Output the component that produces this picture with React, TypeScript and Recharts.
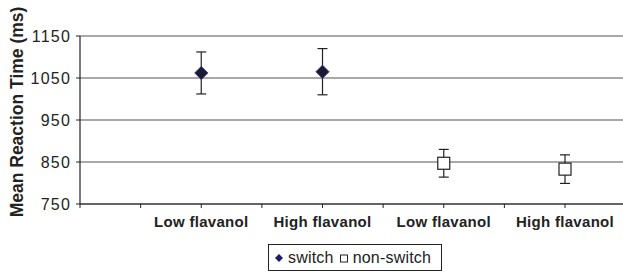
import React from "react"
import { CartesianGrid, ErrorBar, Label, Line, LineChart, XAxis, YAxis } from "recharts"

// category slots along the x axis (blank slots are the unlabeled ticks)
const categories = ["", "", "Low flavanol", "", "High flavanol", "", "Low flavanol", "", "High flavanol"]
const switchMeans = [null, null, 1062, null, 1065, null, null, null, null]
const switchErr = [null, null, 50, null, 55, null, null, null, null]
const nonSwitchMeans = [null, null, null, null, null, null, 847, null, 833]
const nonSwitchErr = [null, null, null, null, null, null, 33, null, 34]
const yTicks = [750, 850, 950, 1050, 1150]

const data = categories.map((label, i) => ({
  label,
  switch: switchMeans[i],
  switchErr: switchErr[i],
  nonSwitch: nonSwitchMeans[i],
  nonSwitchErr: nonSwitchErr[i],
}))

const font = "'Liberation Sans', Arial, sans-serif"

function Diamond(props: any) {
  const { cx, cy, value, index } = props
  if (value == null || cy == null) return <g key={`d-${index}`} />
  const r = 6.5
  return (
    <path
      key={`d-${index}`}
      d={`M${cx},${cy - r}L${cx + r},${cy}L${cx},${cy + r}L${cx - r},${cy}Z`}
      fill="#1c1c30"
      stroke="#2b2b86"
      strokeWidth={1}
    />
  )
}

function Square(props: any) {
  const { cx, cy, value, index } = props
  if (value == null || cy == null) return <g key={`s-${index}`} />
  return <rect key={`s-${index}`} x={cx - 6} y={cy - 6} width={12} height={12} fill="#fff" stroke="#222" strokeWidth={1.2} />
}

function LegendBox() {
  return (
    <div
      style={{
        position: "absolute",
        left: 268,
        top: 244,
        width: 174,
        height: 27,
        boxSizing: "border-box",
        border: "1px solid #222",
        paddingLeft: 5,
        fontFamily: font,
        fontSize: 16,
        letterSpacing: 0.2,
        color: "#222",
        display: "flex",
        alignItems: "center",
        gap: 4,
        background: "#fff",
        whiteSpace: "nowrap",
      }}
    >
      <svg width={10} height={10}>
        <path d="M5,1L9,5L5,9L1,5Z" fill="#1c1c6a" />
      </svg>
      <span>switch</span>
      <svg width={10} height={10} style={{ marginLeft: 1 }}>
        <rect x={1.5} y={2} width={7} height={7} fill="#fff" stroke="#222" strokeWidth={1} />
      </svg>
      <span>non-switch</span>
    </div>
  )
}

export default function App() {
  return (
    <div style={{ width: 623, height: 272, background: "#fff", position: "relative", overflow: "hidden" }}>
      <style>{`body{margin:0}`}</style>
      <LineChart width={623} height={272} data={data} margin={{ top: 36, right: 0, bottom: 28, left: 0 }}>
        <CartesianGrid vertical={false} stroke="#555" strokeWidth={1.2} />
        <XAxis
          dataKey="label"
          interval={0}
          padding={{ left: 0, right: 58 }}
          axisLine={{ stroke: "#222", strokeWidth: 1.2 }}
          tickLine={{ stroke: "#222" }}
          tickSize={4}
          tickMargin={8}
          height={40}
          tick={{ fontFamily: font, fontSize: 15, fontWeight: "bold", fill: "#222", letterSpacing: 0.3 }}
        />
        <YAxis
          domain={[750, 1150]}
          ticks={yTicks}
          width={80}
          axisLine={{ stroke: "#222", strokeWidth: 1.2 }}
          tickLine={{ stroke: "#222" }}
          tickSize={4}
          tickMargin={5}
          tick={{ fontFamily: font, fontSize: 16, fill: "#222", letterSpacing: 1.2 }}
        >
          <Label
            content={() => (
              <text
                x={17}
                y={112}
                transform="rotate(-90 17 112)"
                textAnchor="middle"
                dominantBaseline="central"
                fontFamily={font}
                fontSize={17.5}
                fontWeight="bold"
                fill="#222"
              >
                Mean Reaction Time (ms)
              </text>
            )}
          />
        </YAxis>
        <Line dataKey="switch" name="switch" stroke="none" dot={<Diamond />} activeDot={false} isAnimationActive={false}>
          <ErrorBar dataKey="switchErr" width={5} stroke="#222" strokeWidth={1.2} direction="y" />
        </Line>
        <Line dataKey="nonSwitch" name="non-switch" stroke="none" dot={<Square />} activeDot={false} isAnimationActive={false}>
          <ErrorBar dataKey="nonSwitchErr" width={5} stroke="#222" strokeWidth={1.2} direction="y" />
        </Line>
      </LineChart>
      <LegendBox />
    </div>
  )
}
